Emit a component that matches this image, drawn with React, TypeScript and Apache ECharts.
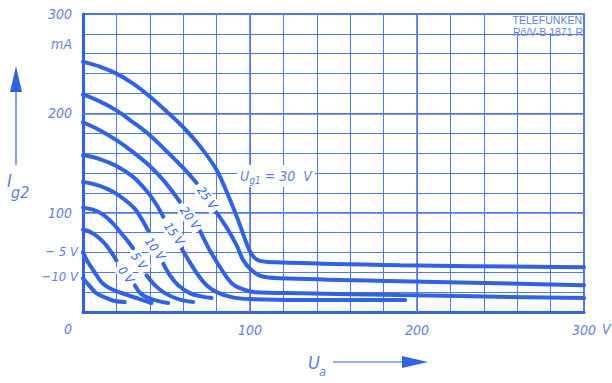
import React, { useEffect, useRef } from "react";
import * as echarts from "echarts";

// Screen-grid current Ig2 versus anode voltage Ua, one curve per control-grid voltage Ug1.
// Each curve is split in two pieces where its rotated label sits.

const xTicks = [100, 200, 300];
const yTicks = [100, 200, 300];

const curve30 = [[0, 252], [10, 247], [20, 240], [30, 230], [40, 217], [50, 202], [60, 186], [70, 167], [80, 143], [87, 117], [93, 92], [98, 69], [101, 58], [105, 52], [115, 50], [190, 47], [300, 45]];

const curve25a = [[0, 219], [10, 212], [20, 203], [30, 191], [40, 178], [50, 162], [60, 145], [68, 130]];
const curve25b = [[80, 100], [86, 85], [92, 67], [96, 52], [101, 42], [107, 36], [118, 34], [190, 31], [300, 27]];

const curve20a = [[0, 191], [10, 183], [20, 173], [30, 161], [40, 147], [49, 131], [58, 111]];
const curve20b = [[70, 82], [76, 62], [84, 40], [89, 29], [94, 24], [103, 20], [130, 19], [190, 17], [300, 14]];

const curve15a = [[0, 158], [10, 154], [20, 147], [30, 136], [38, 122], [44, 108], [48, 96]];
const curve15b = [[59, 64], [64, 50], [69, 37], [74, 27], [80, 20], [89, 15], [100, 13], [130, 12], [193, 12]];

const curve10a = [[0, 131], [10, 127], [18, 121], [25, 113], [31, 104], [35, 94], [39, 82]];
const curve10b = [[48, 49], [52, 37], [57, 27], [64, 19], [70, 16], [77, 14]];

const curve5a = [[0, 105], [6, 103], [12, 98], [18, 89], [23, 79], [27, 71], [30, 64]];
const curve5b = [[38, 37], [43, 27], [49, 19], [57, 13], [66, 10]];

const curve0a = [[0, 83], [5, 80], [10, 74], [14, 67], [17, 60], [20, 52]];
const curve0b = [[31, 27], [35, 18], [41, 13], [51, 9]];

const curveM5 = [[0, 60], [3, 50], [7, 40], [11, 30], [16, 24], [25, 18], [34, 13], [41, 9]];
const curveM10 = [[0, 34], [4, 26], [8, 19], [14, 14], [19, 11], [25, 10]];

const segments = [
  curve30, curve25a, curve25b, curve20a, curve20b, curve15a, curve15b,
  curve10a, curve10b, curve5a, curve5b, curve0a, curve0b, curveM5, curveM10,
];

const INK = "#2f62e6";
const GRID = "#5277e6";
const TEXT = "#5f82da";
const FONT = "'DejaVu Sans Condensed', 'Liberation Sans Narrow', 'DejaVu Sans', sans-serif";
const STAMP_FONT = "'Liberation Sans', 'DejaVu Sans', sans-serif";

export default function App() {
  const ref = useRef<HTMLDivElement>(null);

  useEffect(() => {
    if (!ref.current) return;
    const chart = echarts.init(ref.current, null, { renderer: "svg" });

    const curveLabel = (text: string, x: number, y: number) => ({
      type: "text",
      x,
      y,
      rotation: -0.95,
      z: 20,
      style: {
        text,
        fill: INK,
        font: `italic 12px ${FONT}`,
        align: "center",
        verticalAlign: "middle",
        backgroundColor: "#fff",
        padding: [1, 3],
      },
    });

    const plainText = (text: string, x: number, y: number, size: number, align = "left", extra: any = {}) => ({
      type: "text",
      x,
      y,
      z: 20,
      style: {
        text,
        fill: TEXT,
        font: `italic ${size}px ${FONT}`,
        align,
        verticalAlign: "middle",
        ...extra,
      },
    });

    const option: any = {
      animation: false,
      backgroundColor: "#fff",
      grid: {
        left: 83,
        right: 28,
        top: 14,
        bottom: 71,
        show: true,
        borderColor: GRID,
        borderWidth: 2,
      },
      xAxis: {
        type: "value",
        min: 0,
        max: 300,
        interval: 20,
        axisLine: { show: true, lineStyle: { color: INK, width: 3 } },
        axisTick: { show: false },
        splitLine: { show: true, lineStyle: { color: GRID, width: 1 } },
        axisLabel: {
          margin: 11,
          color: TEXT,
          fontFamily: FONT,
          fontStyle: "italic",
          fontSize: 14,
          formatter: (v: number) => (xTicks.includes(v) ? String(v) : ""),
        },
      },
      yAxis: {
        type: "value",
        min: 0,
        max: 300,
        interval: 20,
        axisLine: { show: true, lineStyle: { color: INK, width: 3 } },
        axisTick: { show: false },
        splitLine: { show: true, lineStyle: { color: GRID, width: 1 } },
        axisLabel: {
          margin: 11,
          color: TEXT,
          fontFamily: FONT,
          fontStyle: "italic",
          fontSize: 14,
          formatter: (v: number) => (yTicks.includes(v) ? String(v) : ""),
        },
      },
      series: [
        ...segments.map((data, i) => ({
          type: "line",
          data,
          smooth: 0.35,
          symbol: "none",
          z: 5,
          lineStyle: { color: INK, width: 4, cap: "round" },
          ...(i === 0
            ? {
                markLine: {
                  silent: true,
                  symbol: "none",
                  label: { show: false },
                  lineStyle: { color: GRID, width: 1.6, type: "solid" },
                  data: [{ xAxis: 100 }, { xAxis: 200 }, { yAxis: 100 }, { yAxis: 200 }],
                },
              }
            : {}),
        })),
      ],
      graphic: [
        // maker's stamp in the top-right cell
        { type: "rect", shape: { x: 517, y: 15, width: 66, height: 18 }, style: { fill: "#fff" }, z: 15 },
        { type: "text", x: 582, y: 20, z: 20, style: { text: "TELEFUNKEN", fill: TEXT, font: `10.5px ${STAMP_FONT}`, align: "right", verticalAlign: "middle" } },
        { type: "text", x: 583, y: 32, z: 20, style: { text: "Rö/V-B 1871 R", fill: TEXT, font: `10.5px ${STAMP_FONT}`, align: "right", verticalAlign: "middle" } },

        // curve labels
        curveLabel("25 V", 207, 198),
        curveLabel("20 V", 190, 218),
        curveLabel("15 V", 174, 234),
        curveLabel("10 V", 155, 249),
        curveLabel("5 V", 139, 261),
        curveLabel("0 V", 126, 275),
        {
          type: "text",
          x: 237,
          y: 176,
          z: 20,
          style: {
            text: "{u|U}{s|g1}{u| = 30  V}",
            fill: TEXT,
            font: `italic 14px ${FONT}`,
            verticalAlign: "middle",
            backgroundColor: "#fff",
            padding: [2, 3],
            rich: {
              u: { fontSize: 14, fontStyle: "italic", fontFamily: FONT, fill: TEXT },
              s: { fontSize: 10, fontStyle: "italic", fontFamily: FONT, fill: TEXT, padding: [8, 0, 0, 0] },
            },
          },
        },
        plainText("− 5 V", 78, 251, 13, "right"),
        plainText("−10 V", 78, 276, 13, "right"),

        // axis units and origin
        plainText("mA", 72, 44, 14, "right"),
        plainText("0", 72, 329, 14, "right"),
        plainText("V", 602, 329, 14, "left"),

        // vertical quantity with arrow
        { type: "line", shape: { x1: 16, y1: 92, x2: 16, y2: 165 }, style: { stroke: INK, lineWidth: 1.2 } },
        { type: "polygon", shape: { points: [[16, 66], [10, 92], [22, 92]] }, style: { fill: INK } },
        plainText("I", 7, 180, 18, "left"),
        plainText("g2", 11, 192, 16, "left"),

        // horizontal quantity with arrow
        plainText("U", 308, 362, 18, "left"),
        plainText("a", 319, 371, 13, "left"),
        { type: "line", shape: { x1: 333, y1: 362, x2: 404, y2: 362 }, style: { stroke: INK, lineWidth: 1.2 } },
        { type: "polygon", shape: { points: [[402, 356], [428, 362], [402, 368]] }, style: { fill: INK } },
      ],
    };

    chart.setOption(option);
    return () => chart.dispose();
  }, []);

  return (
    <div
      ref={ref}
      style={{ position: "fixed", left: 0, top: 0, width: 612, height: 383, background: "#fff" }}
    />
  );
}
